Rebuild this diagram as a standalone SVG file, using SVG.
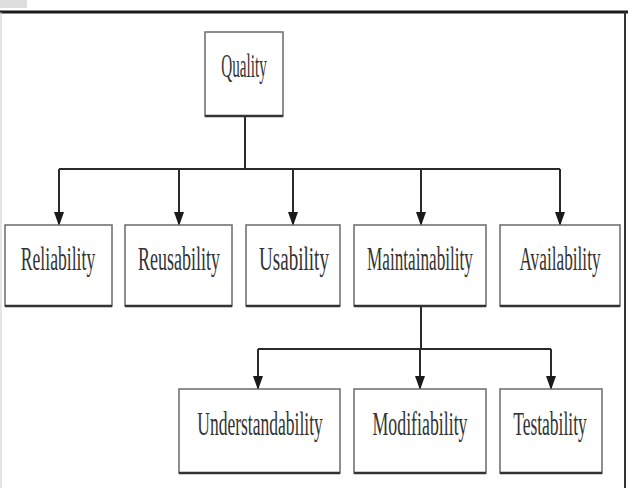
<svg xmlns="http://www.w3.org/2000/svg" width="628" height="488" viewBox="0 0 628 488">
<style>
.box{fill:#fff;stroke:#6a6a6a;stroke-width:1.5}
.shadow{stroke:#333;stroke-width:2.5}
.lbl{font-family:"Liberation Serif","Times New Roman",serif;font-size:33px;fill:#333;text-anchor:middle}
.conn{fill:none;stroke:#2a2a2a;stroke-width:2}
</style>
<defs>
<marker id="ah" markerWidth="14" markerHeight="10" refX="13" refY="5" orient="auto" markerUnits="userSpaceOnUse" viewBox="0 0 14 10">
<path d="M0,0 L14,5 L0,10 Z" fill="#1a1a1a"/>
</marker>
</defs>
<rect x="0" y="0" width="628" height="488" fill="#fff"/>
<rect x="0" y="0" width="27" height="8" fill="#ddd"/>
<line x1="0" y1="12" x2="628" y2="12" stroke="#1a1a1a" stroke-width="3"/>
<line x1="625" y1="12" x2="625" y2="488" stroke="#333" stroke-width="2"/>
<line x1="1" y1="12" x2="1" y2="488" stroke="#ccc" stroke-width="1"/>
<g id="connectors">
<path class="conn" d="M245,116 V169"/>
<path class="conn" d="M59,169 H560"/>
<path class="conn" d="M59,169 V225" marker-end="url(#ah)"/>
<path class="conn" d="M179,169 V225" marker-end="url(#ah)"/>
<path class="conn" d="M293,169 V225" marker-end="url(#ah)"/>
<path class="conn" d="M421,169 V225" marker-end="url(#ah)"/>
<path class="conn" d="M560,169 V225" marker-end="url(#ah)"/>
<path class="conn" d="M421,306 V349"/>
<path class="conn" d="M258,349 H551"/>
<path class="conn" d="M258,349 V389" marker-end="url(#ah)"/>
<path class="conn" d="M420,349 V389" marker-end="url(#ah)"/>
<path class="conn" d="M551,349 V389" marker-end="url(#ah)"/>
</g>
<g id="quality">
<rect class="box" x="205" y="32" width="78" height="84"/>
<line class="shadow" x1="205" y1="116" x2="283" y2="116"/>
<text class="lbl" transform="translate(244,77) scale(0.46,1)">Quality</text>
</g>
<g id="reliability">
<rect class="box" x="5" y="225" width="107" height="81"/>
<line class="shadow" x1="5" y1="306" x2="112" y2="306"/>
<text class="lbl" transform="translate(58,270) scale(0.535,1)">Reliability</text>
</g>
<g id="reusability">
<rect class="box" x="125" y="225" width="107" height="81"/>
<line class="shadow" x1="125" y1="306" x2="232" y2="306"/>
<text class="lbl" transform="translate(179,270) scale(0.545,1)">Reusability</text>
</g>
<g id="usability">
<rect class="box" x="246" y="225" width="94" height="81"/>
<line class="shadow" x1="246" y1="306" x2="340" y2="306"/>
<text class="lbl" transform="translate(294,270) scale(0.578,1)">Usability</text>
</g>
<g id="maintainability">
<rect class="box" x="354" y="225" width="132" height="81"/>
<line class="shadow" x1="354" y1="306" x2="486" y2="306"/>
<text class="lbl" transform="translate(420,270) scale(0.52,1)">Maintainability</text>
</g>
<g id="availability">
<rect class="box" x="500" y="225" width="120" height="81"/>
<line class="shadow" x1="500" y1="306" x2="620" y2="306"/>
<text class="lbl" transform="translate(560,270) scale(0.523,1)">Availability</text>
</g>
<g id="understandability">
<rect class="box" x="179" y="389" width="161" height="84"/>
<line class="shadow" x1="179" y1="473" x2="340" y2="473"/>
<text class="lbl" transform="translate(260,435) scale(0.531,1)">Understandability</text>
</g>
<g id="modifiability">
<rect class="box" x="354" y="389" width="132" height="84"/>
<line class="shadow" x1="354" y1="473" x2="486" y2="473"/>
<text class="lbl" transform="translate(420,435) scale(0.54,1)">Modifiability</text>
</g>
<g id="testability">
<rect class="box" x="500" y="389" width="102" height="84"/>
<line class="shadow" x1="500" y1="473" x2="602" y2="473"/>
<text class="lbl" transform="translate(550,435) scale(0.531,1)">Testability</text>
</g>
</svg>
